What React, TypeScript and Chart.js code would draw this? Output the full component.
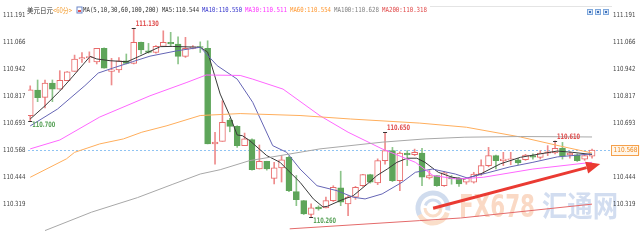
import { useEffect, useRef } from "react";
import { Chart, registerables } from "chart.js";
Chart.register(...registerables);

// ---- candle data (60-minute USD/JPY) ----
const opens = [110.726,110.845,110.811,110.877,110.849,110.888,110.931,110.988,110.994,110.975,111.037,110.931,110.937,110.980,110.968,111.065,111.026,111.018,111.046,111.065,111.057,111.000,111.037,111.044,111.037,110.596,110.608,110.706,110.677,110.588,110.616,110.480,110.516,110.437,110.485,110.534,110.376,110.334,110.270,110.304,110.301,110.334,110.393,110.319,110.350,110.403,110.454,110.416,110.519,110.565,110.426,110.554,110.546,110.554,110.439,110.450,110.403,110.442,110.437,110.419,110.419,110.457,110.496,110.542,110.519,110.523,110.523,110.523,110.542,110.534,110.553,110.554,110.576,110.545,110.546,110.526,110.539];
const highs = [110.864,110.891,110.891,110.891,110.934,110.930,111.006,111.018,111.021,111.037,111.040,110.991,110.995,111.011,111.130,111.066,111.060,111.050,111.118,111.111,111.090,111.088,111.050,111.067,111.072,110.650,110.795,110.714,110.680,110.646,110.620,110.591,110.516,110.511,110.542,110.540,110.450,110.335,110.319,110.310,110.350,110.403,110.470,110.357,110.400,110.456,110.456,110.527,110.650,110.580,110.560,110.565,110.572,110.576,110.473,110.450,110.468,110.450,110.440,110.440,110.465,110.523,110.580,110.545,110.557,110.557,110.530,110.548,110.550,110.565,110.588,110.610,110.603,110.560,110.550,110.545,110.572];
const lows = [110.700,110.791,110.762,110.791,110.849,110.888,110.931,110.972,110.972,110.965,110.946,110.868,110.926,110.965,110.965,111.011,111.015,111.015,111.046,111.049,110.965,110.995,111.035,111.018,110.596,110.503,110.608,110.652,110.580,110.588,110.475,110.480,110.475,110.411,110.420,110.375,110.311,110.270,110.260,110.290,110.300,110.330,110.311,110.265,110.340,110.400,110.415,110.408,110.503,110.422,110.380,110.496,110.542,110.403,110.434,110.400,110.400,110.410,110.400,110.410,110.415,110.450,110.490,110.480,110.496,110.500,110.500,110.520,110.525,110.526,110.542,110.550,110.526,110.530,110.515,110.520,110.530];
const closes = [110.846,110.809,110.877,110.849,110.889,110.929,110.988,110.995,110.998,111.037,110.946,110.938,110.980,110.968,111.065,111.030,111.018,111.046,111.065,111.057,111.000,111.037,111.044,111.041,110.596,110.604,110.696,110.677,110.588,110.619,110.477,110.516,110.480,110.485,110.523,110.380,110.339,110.273,110.301,110.296,110.334,110.396,110.327,110.350,110.396,110.454,110.419,110.519,110.565,110.426,110.554,110.545,110.557,110.442,110.450,110.403,110.462,110.434,110.411,110.437,110.457,110.496,110.542,110.519,110.526,110.525,110.508,110.545,110.535,110.554,110.560,110.576,110.539,110.554,110.519,110.542,110.568];

// ---- moving averages, read as [candle index, value] ----
const ma5 = [[0,110.711],[2,110.772],[4,110.840],[5.8,110.909],[8.1,111.000],[9,110.988],[10.8,110.980],[13.1,110.975],[14.8,111.001],[17.6,111.045],[19.2,111.046],[23,111.042],[24,111.020],[25.7,110.826],[27,110.726],[28,110.637],[28.7,110.634],[29.7,110.611],[32,110.542],[33.8,110.511],[34.7,110.480],[36.5,110.419],[38.3,110.342],[39.6,110.305],[40.2,110.308],[41.9,110.334],[43.7,110.357],[45.6,110.411],[46.9,110.450],[48.3,110.480],[49.6,110.511],[51,110.530],[52.3,110.530],[53.4,110.511],[55.2,110.465],[57.1,110.442],[58.8,110.434],[60.9,110.457],[63.6,110.504],[66.3,110.534],[69,110.550],[71.3,110.563],[73.4,110.557],[76,110.547]];
const ma10 = [[0,110.679],[3.7,110.757],[7.4,110.865],[9.2,110.923],[11.1,110.945],[13.8,110.975],[16.2,111.001],[19.9,111.026],[23,111.042],[25.3,110.957],[28,110.895],[30.1,110.788],[32.8,110.588],[34.7,110.557],[36.5,110.480],[38.8,110.403],[41.5,110.380],[43.7,110.350],[45.3,110.342],[47.6,110.365],[50.3,110.419],[52.1,110.465],[54.4,110.480],[57.5,110.457],[59.1,110.439],[61.8,110.462],[64.9,110.490],[68,110.511],[71.3,110.536],[76,110.550]];
const ma30 = [[0,110.573],[4,110.614],[9.4,110.720],[16.2,110.818],[21.2,110.880],[23.8,110.914],[28.4,110.912],[30.1,110.895],[34.2,110.849],[39.2,110.726],[43,110.650],[47.6,110.573],[52.1,110.511],[54.5,110.450],[57.7,110.434],[61.3,110.442],[68,110.480],[76,110.511]];
const ma60 = [[0,110.442],[4.9,110.527],[6,110.557],[9.4,110.596],[12.6,110.619],[15.1,110.650],[18.5,110.680],[23,110.727],[28.4,110.736],[36.5,110.727],[43.3,110.711],[52.7,110.692],[59,110.673],[66.3,110.628],[71.7,110.586],[76,110.554]];
const ma100 = [[2,110.196],[8.3,110.281],[14.5,110.348],[19.3,110.410],[23,110.457],[25.7,110.477],[29.7,110.519],[33.8,110.542],[39.2,110.573],[47.6,110.604],[53.4,110.619],[58.8,110.627],[66.3,110.630],[76,110.628]];
const ma200 = [[35.1,110.204],[52.7,110.242],[58.2,110.254],[76,110.318]];

const yTicks = [111.191, 111.066, 110.942, 110.817, 110.693, 110.568, 110.444, 110.319];
const yMin = 110.194;
const yMax = 111.191;

const highMarks = [14, 48, 71];
const lowMarks = [0, 38];

// arrow annotation, in [index, price]
const arrowFrom = [54.5, 110.299];
const arrowTo = [77.1, 110.503];

const legendParts = [
  { t: "MA(5,10,30,60,100,200)", c: "#333333", w: 76 },
  { t: "MA5:110.544", c: "#333333", w: 37 },
  { t: "MA10:110.550", c: "#3333cc", w: 40 },
  { t: "MA30:110.511", c: "#ff33ff", w: 42 },
  { t: "MA60:110.554", c: "#ff9933", w: 41 },
  { t: "MA100:110.628", c: "#808080", w: 45 },
  { t: "MA200:110.318", c: "#e04848", w: 45 },
];

const UP = "#e86a6a";
const DOWN = "#5ea55a";
const UPWICK = "#ee8c8c";
const DOWNWICK = "#8cc48a";

const deco = {
  id: "deco",
  beforeDatasetsDraw(chart: any) {
    const { ctx, chartArea: a, scales } = chart;
    const y = scales.y;
    ctx.save();
    // watermark logo
    const cx = 433, cy = 208;
    ctx.globalAlpha = 0.55;
    ctx.lineWidth = 5;
    ctx.strokeStyle = "#a9bfe0";
    ctx.beginPath(); ctx.arc(cx, cy, 15, Math.PI * 0.85, Math.PI * 2.05); ctx.stroke();
    ctx.strokeStyle = "#f6c29c";
    ctx.beginPath(); ctx.arc(cx, cy, 15, Math.PI * 0.1, Math.PI * 0.85); ctx.stroke();
    ctx.lineWidth = 3;
    ctx.strokeStyle = "#a9bfe0";
    ctx.beginPath(); ctx.arc(cx, cy, 8, Math.PI * 1.1, Math.PI * 2.0); ctx.stroke();
    ctx.strokeStyle = "#f6c29c";
    ctx.beginPath(); ctx.arc(cx, cy, 8, 0, Math.PI * 1.0); ctx.stroke();
    ctx.beginPath(); ctx.moveTo(cx, cy); ctx.lineTo(cx + 8, cy); ctx.stroke();
    // watermark text
    ctx.globalAlpha = 0.6;
    ctx.textBaseline = "alphabetic";
    ctx.textAlign = "left";
    ctx.font = "bold 32px 'DejaVu Sans'";
    ctx.fillStyle = "#f6bf9e";
    ctx.fillText("FX678", 459, 217, 76);
    ctx.font = "bold 29px 'Noto Sans CJK SC'";
    ctx.fillStyle = "#b4c6e6";
    ctx.fillText("汇通网", 542, 217, 76);
    ctx.restore();

    // current price dotted line
    const last = closes[closes.length - 1];
    const py = Math.round(y.getPixelForValue(last)) + 0.5;
    ctx.save();
    ctx.strokeStyle = "#8fc3f2";
    ctx.lineWidth = 1;
    ctx.setLineDash([2, 2]);
    ctx.beginPath(); ctx.moveTo(a.left, py); ctx.lineTo(a.right, py); ctx.stroke();
    ctx.restore();
  },
  afterDatasetsDraw(chart: any) {
    const { ctx, chartArea: a, scales } = chart;
    const x = scales.x, y = scales.y;
    ctx.save();
    // arrow
    const x1 = x.getPixelForValue(arrowFrom[0]), y1 = y.getPixelForValue(arrowFrom[1]);
    const x2 = x.getPixelForValue(arrowTo[0]), y2 = y.getPixelForValue(arrowTo[1]);
    const ang = Math.atan2(y2 - y1, x2 - x1);
    const hl = 14, hw = 6;
    const bx = x2 - hl * Math.cos(ang), by = y2 - hl * Math.sin(ang);
    ctx.strokeStyle = "#ea3a32";
    ctx.fillStyle = "#ea3a32";
    ctx.lineWidth = 3;
    ctx.beginPath(); ctx.moveTo(x1, y1); ctx.lineTo(bx, by); ctx.stroke();
    ctx.beginPath();
    ctx.moveTo(x2, y2);
    ctx.lineTo(bx + hw * Math.sin(ang), by - hw * Math.cos(ang));
    ctx.lineTo(bx - hw * Math.sin(ang), by + hw * Math.cos(ang));
    ctx.closePath(); ctx.fill();

    // high / low marks
    ctx.font = "bold 7.5px 'DejaVu Sans'";
    ctx.textBaseline = "middle";
    ctx.textAlign = "left";
    for (const i of highMarks) {
      const px = x.getPixelForValue(i), py = y.getPixelForValue(highs[i]);
      ctx.strokeStyle = "#333"; ctx.lineWidth = 1;
      ctx.beginPath(); ctx.moveTo(px - 2, Math.round(py) + 0.5); ctx.lineTo(px + 2, Math.round(py) + 0.5); ctx.stroke();
      ctx.fillStyle = "#e05050";
      ctx.fillText(highs[i].toFixed(3), px + 2, py - 4, 23);
    }
    for (const i of lowMarks) {
      const px = x.getPixelForValue(i), py = y.getPixelForValue(lows[i]);
      ctx.strokeStyle = "#333"; ctx.lineWidth = 1;
      ctx.beginPath(); ctx.moveTo(px - 2, Math.round(py) + 0.5); ctx.lineTo(px + 2, Math.round(py) + 0.5); ctx.stroke();
      ctx.fillStyle = "#5aa35a";
      ctx.fillText(lows[i].toFixed(3), px + 2, py + 4, 23);
    }

    // axis labels
    ctx.font = "7px 'DejaVu Sans'";
    ctx.fillStyle = "#444";
    ctx.strokeStyle = "#b0b0b0";
    for (const v of yTicks) {
      const py = y.getPixelForValue(v);
      ctx.textAlign = "left";
      ctx.fillText(v.toFixed(3), 3, py, 22.5);
      ctx.fillText(v.toFixed(3), a.right + 1, py, 22.5);
    }

    // current price box
    const last = closes[closes.length - 1];
    const lp = Math.round(y.getPixelForValue(last));
    ctx.fillStyle = "#fff6ea";
    ctx.fillRect(a.right - 1, lp - 5, 29, 10);
    ctx.strokeStyle = "#f5a04a"; ctx.lineWidth = 1;
    ctx.strokeRect(a.right - 0.5, lp - 4.5, 27, 10);
    ctx.fillStyle = "#f08a20";
    ctx.fillText(last.toFixed(3), a.right + 1.5, lp + 0.5, 24);

    // legend / title
    ctx.textBaseline = "middle";
    ctx.font = "7px 'Noto Sans CJK SC'";
    ctx.fillStyle = "#333";
    ctx.fillText("美元日元", 27, 10, 26);
    ctx.fillStyle = "#f39a2a";
    ctx.fillText("<60分>", 53, 10, 19);
    // indicator icon
    ctx.fillStyle = "#6a86c8";
    ctx.fillRect(76.5, 6.5, 6, 7);
    ctx.fillStyle = "#fff";
    ctx.fillRect(77.5, 7.5, 4, 5);
    ctx.fillStyle = "#e05050";
    ctx.fillRect(78, 10, 3, 2);
    ctx.font = "7px 'DejaVu Sans Mono'";
    let lx = 83;
    for (const p of legendParts) {
      ctx.fillStyle = p.c;
      ctx.fillText(p.t, lx, 10, p.w);
      lx += p.w + 3;
    }
    // top border line
    ctx.strokeStyle = "#e4e4e4";
    ctx.beginPath(); ctx.moveTo(lx, 6.5); ctx.lineTo(612, 6.5); ctx.stroke();
    // tool buttons
    for (let k = 0; k < 3; k++) {
      const bxp = 587 + k * 8;
      ctx.fillStyle = "#7fa8dc";
      ctx.fillRect(bxp, 9, 6, 6);
      ctx.fillStyle = "#dbe8f8";
      ctx.fillRect(bxp + 1, 10, 4, 4);
      ctx.fillStyle = "#3f6fb8";
      ctx.fillRect(bxp + 2, 11, 2, 2);
    }
    ctx.restore();
  },
};

function lineDs(pts: number[][], color: string) {
  return {
    type: "line" as const,
    order: 0,
    data: pts.map(([px, py]) => ({ x: px, y: py })),
    borderColor: color,
    borderWidth: 1,
    pointRadius: 0,
    tension: 0,
    fill: false,
  };
}

export default function App() {
  const ref = useRef<HTMLCanvasElement>(null);
  useEffect(() => {
    if (!ref.current) return;
    const isUp = (i: number) => closes[i] >= opens[i];
    const chart = new Chart(ref.current, {
      type: "bar",
      data: {
        datasets: [
          lineDs(ma200, "#e46a6a"),
          lineDs(ma100, "#a8a8a8"),
          lineDs(ma60, "#ffae5c"),
          lineDs(ma30, "#ff66ff"),
          lineDs(ma10, "#6565b5"),
          lineDs(ma5, "#3a3a3a"),
          {
            type: "bar",
            order: 1,
            data: opens.map((o, i) => ({ x: i, y: [o, closes[i]] })),
            backgroundColor: (c: any) => (isUp(c.dataIndex) ? "#ffffff" : DOWN),
            borderColor: (c: any) => (isUp(c.dataIndex) ? UP : DOWN),
            borderWidth: 1,
            borderSkipped: false,
            barThickness: 6,
            minBarLength: 1,
            grouped: false,
          } as any,
          {
            type: "bar",
            order: 2,
            data: lows.map((l, i) => ({ x: i, y: [l, highs[i]] })),
            backgroundColor: (c: any) => (isUp(c.dataIndex) ? UPWICK : DOWNWICK),
            borderWidth: 0,
            barThickness: 1,
            grouped: false,
          } as any,
        ],
      },
      options: {
        responsive: false,
        animation: false,
        devicePixelRatio: 1,
        layout: { padding: { left: 28, right: 28, top: 15, bottom: 9 } },
        plugins: { legend: { display: false }, tooltip: { enabled: false } },
        scales: {
          x: { type: "linear", min: -0.3, max: 78.7, offset: false, display: false },
          y: { type: "linear", min: yMin, max: yMax, display: false },
        },
      },
      plugins: [deco],
    } as any);
    return () => chart.destroy();
  }, []);
  return (
    <div style={{ position: "fixed", left: 0, top: 0, width: 640, height: 240, background: "#fff" }}>
      <canvas ref={ref} width={640} height={240} style={{ display: "block" }} />
    </div>
  );
}
